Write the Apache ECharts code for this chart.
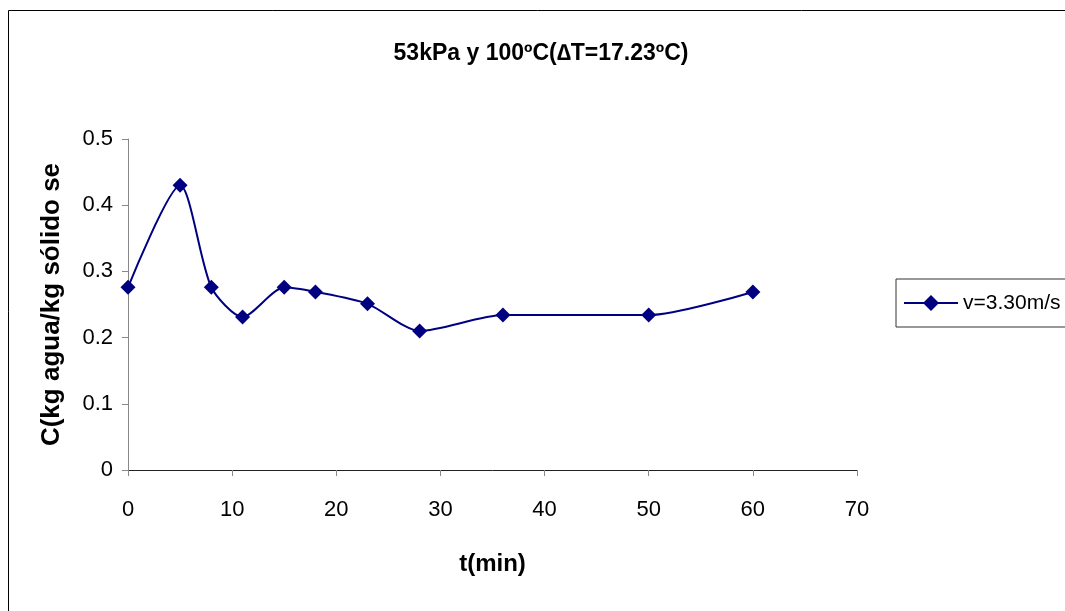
<!DOCTYPE html>
<html><head><meta charset="utf-8">
<script src="https://cdn.jsdelivr.net/npm/echarts@6/dist/echarts.min.js"></script>
<style>html,body{margin:0;padding:0;background:#fff}#c{width:1065px;height:611px}</style>
</head><body><div id="c"></div>
<script>
const tMin = [0, 5, 8, 11, 15, 18, 23, 28, 36, 50, 60];
const cVals = [0.276, 0.43, 0.276, 0.231, 0.276, 0.269, 0.251, 0.21, 0.234, 0.234, 0.269];
const seriesName = 'v=3.30m/s';
const titleText = '53kPa y 100ºC(\u2206T=17.23ºC)';
const xTitle = 't(min)';
const yTitle = 'C(kg agua/kg sólido se';

const chart = echarts.init(document.getElementById('c'));
const font = 'Liberation Sans, Arial, sans-serif';
chart.setOption({
  animation: false,
  graphic: [{type: 'rect', shape: {x: 8.5, y: 10.5, width: 1100, height: 700}, style: {fill: 'none', stroke: '#000', lineWidth: 1}, silent: true}],
  title: {text: titleText, left: 536, top: 37, textAlign: 'center',
    textStyle: {fontFamily: font, fontSize: 23, fontWeight: 'bold', color: '#000'}},
  legend: {left: 896, top: 279, orient: 'vertical', borderColor: '#333', borderWidth: 1, borderRadius: 0,
    padding: [13, 20, 13, 7], itemWidth: 54, itemHeight: 20, itemGap: 5,
    textStyle: {fontFamily: font, fontSize: 21, lineHeight: 22, color: '#000'},
    data: [seriesName]},
  grid: {left: 128, top: 139, right: 208, bottom: 141},
  xAxis: {type: 'value', min: 0, max: 70, interval: 10,
    name: xTitle, nameLocation: 'middle', nameGap: 82,
    nameTextStyle: {fontFamily: font, fontSize: 24, fontWeight: 'bold', color: '#000'},
    axisLine: {show: true, lineStyle: {color: '#222', width: 1}},
    axisTick: {show: true, inside: false, length: 6, lineStyle: {color: '#888'}},
    axisLabel: {fontFamily: font, fontSize: 22, color: '#000', margin: 29},
    splitLine: {show: false}},
  yAxis: {type: 'value', min: 0, max: 0.5, interval: 0.1,
    name: yTitle, nameLocation: 'middle', nameGap: 63, nameRotate: 90,
    nameTextStyle: {fontFamily: font, fontSize: 26, fontWeight: 'bold', color: '#000'},
    axisLine: {show: true, lineStyle: {color: '#888', width: 1}},
    axisTick: {show: true, inside: false, length: 6, lineStyle: {color: '#888'}},
    axisLabel: {fontFamily: font, fontSize: 22, color: '#000', margin: 15, formatter: v => String(+v.toFixed(1))},
    splitLine: {show: false}},
  series: [{name: seriesName, type: 'line', smooth: 0.25,
    data: tMin.map((t, i) => [t, cVals[i]]),
    symbol: 'diamond', symbolSize: 15,
    lineStyle: {color: '#000080', width: 2},
    itemStyle: {color: '#000080'}}]
});
</script></body></html>
